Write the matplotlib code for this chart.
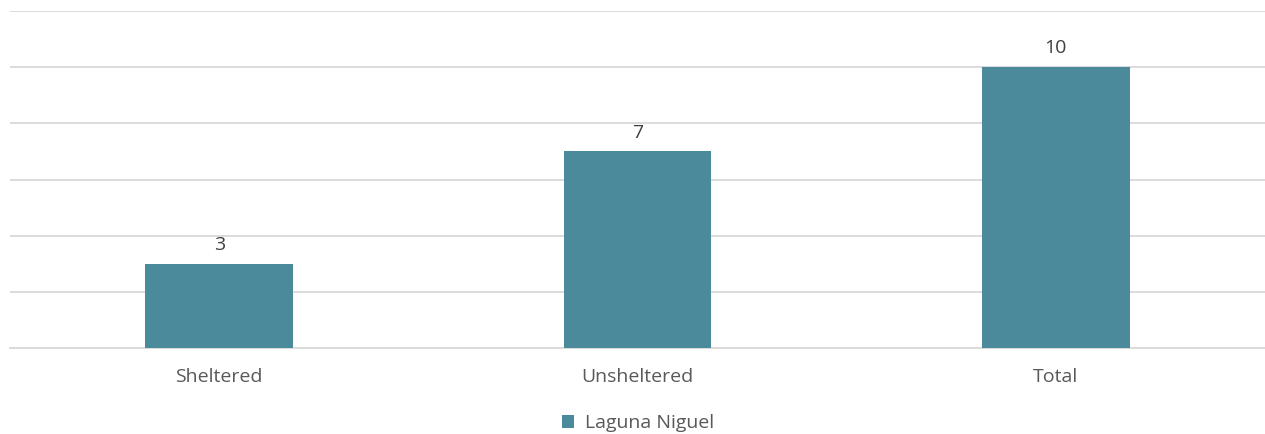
import matplotlib
matplotlib.use("Agg")
import matplotlib.pyplot as plt

categories = ["Sheltered", "Unsheltered", "Total"]
values = [3, 7, 10]
series_name = "Laguna Niguel"

plt.rcParams['font.family'] = ['Open Sans', 'DejaVu Sans']

fig = plt.figure(figsize=(12.65, 4.34), dpi=100)
ax = fig.add_axes([10/1265, 1-348/434, 1255/1265, (348-11)/434])

color = "#4A8A9A"
x = list(range(len(categories)))
bars = ax.bar(x, values, width=0.353, color=color, label=series_name, zorder=3)
ax.set_xlim(-0.5, len(categories)-0.5)
ax.set_ylim(0, 12)
ax.set_yticks(range(0, 13, 2))
ax.yaxis.grid(True, color="#D9D9D9", linewidth=1.3, zorder=0)
ax.tick_params(axis='y', left=False, labelleft=False)
ax.tick_params(axis='x', bottom=False, labelsize=14, labelcolor="#595959", pad=11)
ax.set_xticks(x)
ax.set_xticklabels(categories)
for s in ["top", "right", "left"]:
    ax.spines[s].set_visible(False)
ax.spines["bottom"].set_color("#D9D9D9")
ax.spines["bottom"].set_linewidth(1.3)

for xi, v in zip(x, values):
    ax.annotate(str(v), (xi, v), xytext=(0, 7), textcoords="offset points",
                ha="center", va="bottom", fontsize=14, color="#404040")

leg = fig.legend(loc="center", bbox_to_anchor=(638/1265, 1-423/434), frameon=False,
                 fontsize=14, handlelength=0.65, handleheight=0.65, handletextpad=0.55,
                 labelcolor="#595959")

fig.savefig("out.png", dpi=100)
